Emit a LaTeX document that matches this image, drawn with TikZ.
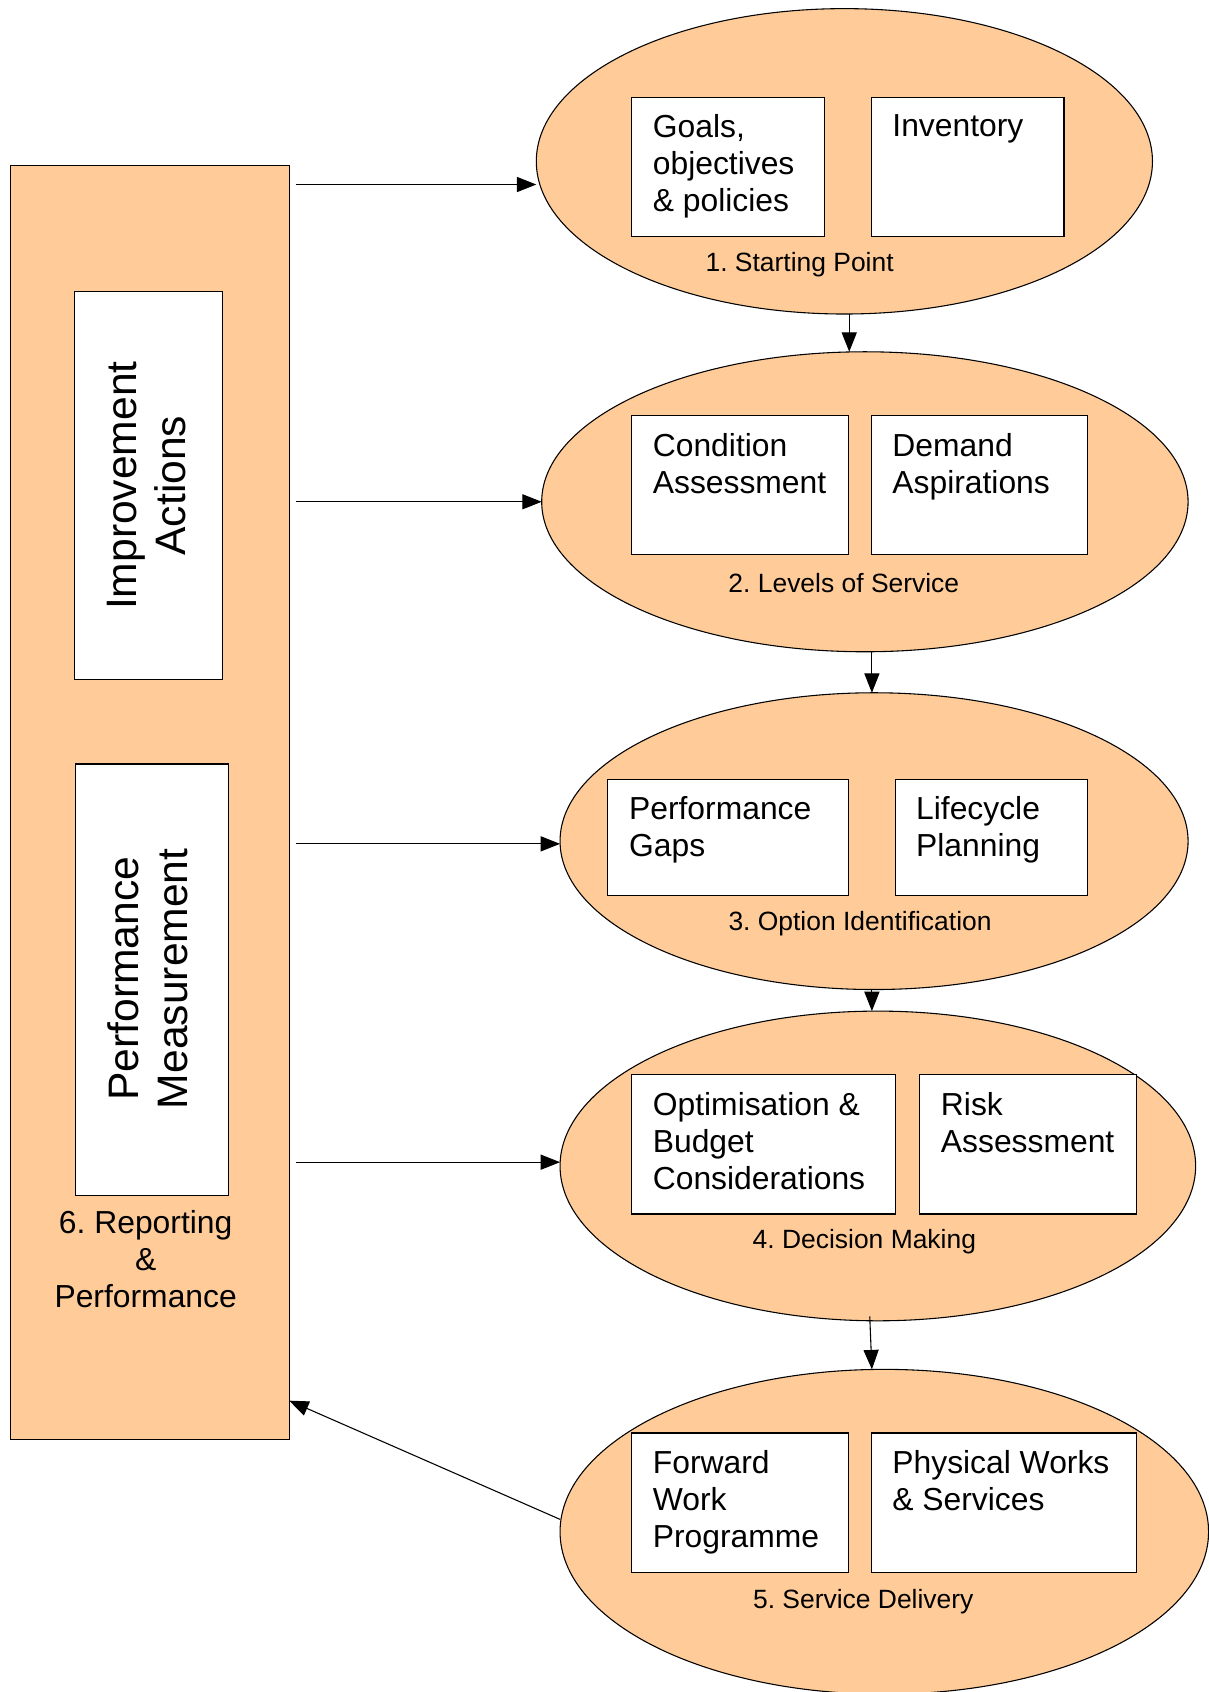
\documentclass[tikz,border=0pt]{standalone}
\usepackage{fontspec}
\setmainfont{Liberation Sans}
\usetikzlibrary{shapes.geometric,arrows.meta,calc}
\definecolor{peach}{HTML}{FFCC99}
\frenchspacing
\begin{document}
\begin{tikzpicture}[x=1pt,y=-1pt,
  every node/.style={inner sep=0pt, outer sep=0pt},
  stage/.style={ellipse, draw, fill=peach, line width=1pt},
  panel/.style={draw, fill=white, line width=1pt, anchor=north west},
  paneltext/.style={anchor=north west, align=left, font=\fontsize{29.5}{34}\selectfont},
  stagelabel/.style={font=\fontsize{24.5}{29}\selectfont},
  sidetext/.style={rotate=90, align=center, font=\fontsize{39.5}{45}\selectfont},
  arr/.style={line width=1pt, -{Triangle[length=18pt,width=14pt]}}]

\useasboundingbox (0,0) rectangle (1120,1568);

% 6. Reporting & Performance column
\node[draw, fill=peach, line width=1pt, minimum width=258pt, minimum height=1181pt] (L) at (139,743.5) {};
\node[draw, fill=white, line width=1pt, minimum width=137pt, minimum height=360pt] (IA) at (137.5,450) {};
\node[sidetext] (IAt) at (136,450) {Improvement\\Actions};
\node[draw, fill=white, line width=1pt, minimum width=142pt, minimum height=400pt] (PM) at (141,908) {};
\node[sidetext] (PMt) at (137,907) {Performance\\Measurement};
\node[align=center, font=\fontsize{29.5}{34}\selectfont] (Lt) at (135,1167) {6. Reporting\\\&\\Performance};

% stages
\node[stage, minimum width=571pt, minimum height=283pt] (E1) at (782.5,149.5) {};
\node[stage, minimum width=599pt, minimum height=278pt] (E2) at (801.5,465) {};
\node[stage, minimum width=582pt, minimum height=275pt] (E3) at (810,779.5) {};
\node[stage, minimum width=589pt, minimum height=287pt] (E4) at (813.5,1080.5) {};
\node[stage, minimum width=601pt, minimum height=301pt] (E5) at (819.5,1419.5) {};

% 1. Starting Point
\node[panel, minimum width=179pt, minimum height=129pt] (B11) at (585,90) {};
\node[paneltext] (T11) at ([xshift=20pt,yshift=-16.5pt]B11.north west) {Goals,\\objectives\\\& policies};
\node[panel, minimum width=178pt, minimum height=129pt] (B12) at (808,90) {};
\node[paneltext] (T12) at ([xshift=19pt,yshift=-16.5pt]B12.north west) {Inventory};
\node[stagelabel] (S1) at (741,245) {1. Starting Point};

% 2. Levels of Service
\node[panel, minimum width=201pt, minimum height=129pt] (B21) at (585,385) {};
\node[paneltext] (T21) at ([xshift=20pt,yshift=-16.5pt]B21.north west) {Condition\\Assessment};
\node[panel, minimum width=200pt, minimum height=129pt] (B22) at (808,385) {};
\node[paneltext] (T22) at ([xshift=19pt,yshift=-16.5pt]B22.north west) {Demand\\Aspirations};
\node[stagelabel] (S2) at (782,540) {2. Levels of Service};

% 3. Option Identification
\node[panel, minimum width=223pt, minimum height=108pt] (B31) at (563,722) {};
\node[paneltext] (T31) at ([xshift=20pt,yshift=-16.5pt]B31.north west) {Performance\\Gaps};
\node[panel, minimum width=178pt, minimum height=108pt] (B32) at (830,722) {};
\node[paneltext] (T32) at ([xshift=19pt,yshift=-16.5pt]B32.north west) {Lifecycle\\Planning};
\node[stagelabel] (S3) at (797,856) {3. Option Identification};

% 4. Decision Making
\node[panel, minimum width=245pt, minimum height=129pt] (B41) at (585,996) {};
\node[paneltext] (T41) at ([xshift=20pt,yshift=-16.5pt]B41.north west) {Optimisation \&\\Budget\\Considerations};
\node[panel, minimum width=201pt, minimum height=129pt] (B42) at (852,996) {};
\node[paneltext] (T42) at ([xshift=20pt,yshift=-16.5pt]B42.north west) {Risk\\Assessment};
\node[stagelabel] (S4) at (801,1151) {4. Decision Making};

% 5. Service Delivery
\node[panel, minimum width=201pt, minimum height=129pt] (B51) at (585,1328) {};
\node[paneltext] (T51) at ([xshift=20pt,yshift=-16.5pt]B51.north west) {Forward\\Work\\Programme};
\node[panel, minimum width=245pt, minimum height=129pt] (B52) at (808,1328) {};
\node[paneltext] (T52) at ([xshift=19pt,yshift=-16.5pt]B52.north west) {Physical Works\\\& Services};
\node[stagelabel] (S5) at (800,1484) {5. Service Delivery};

% feedback arrows from the reporting column
\coordinate (s1) at (274,171);
\coordinate (s2) at (274,465);
\coordinate (s3) at (274,782);
\coordinate (s4) at (274,1077);
\draw[arr] (s1) -- (s1 -| E1.west);
\draw[arr] (s2) -- (s2 -| E2.west);
\draw[arr] (s3) -- (s3 -| E3.west);
\draw[arr] (s4) -- (s4 -| E4.west);

% flow between stages
\draw[arr] ([xshift=4.5pt]E1.south) -- ([xshift=-14.5pt]E2.north);
\draw[arr] ([xshift=6.5pt]E2.south) -- ([xshift=-2pt]E3.north);
\draw[arr] ([xshift=-2pt]E3.south) -- ([xshift=-5.5pt]E4.north);
\draw[arr] ([xshift=-7.5pt,yshift=4pt]E4.south) -- ([xshift=-11.5pt]E5.north);

% return to reporting
\draw[arr] ([yshift=11.5pt]E5.west) -- ([yshift=-554.5pt]L.east);
\end{tikzpicture}
\end{document}
